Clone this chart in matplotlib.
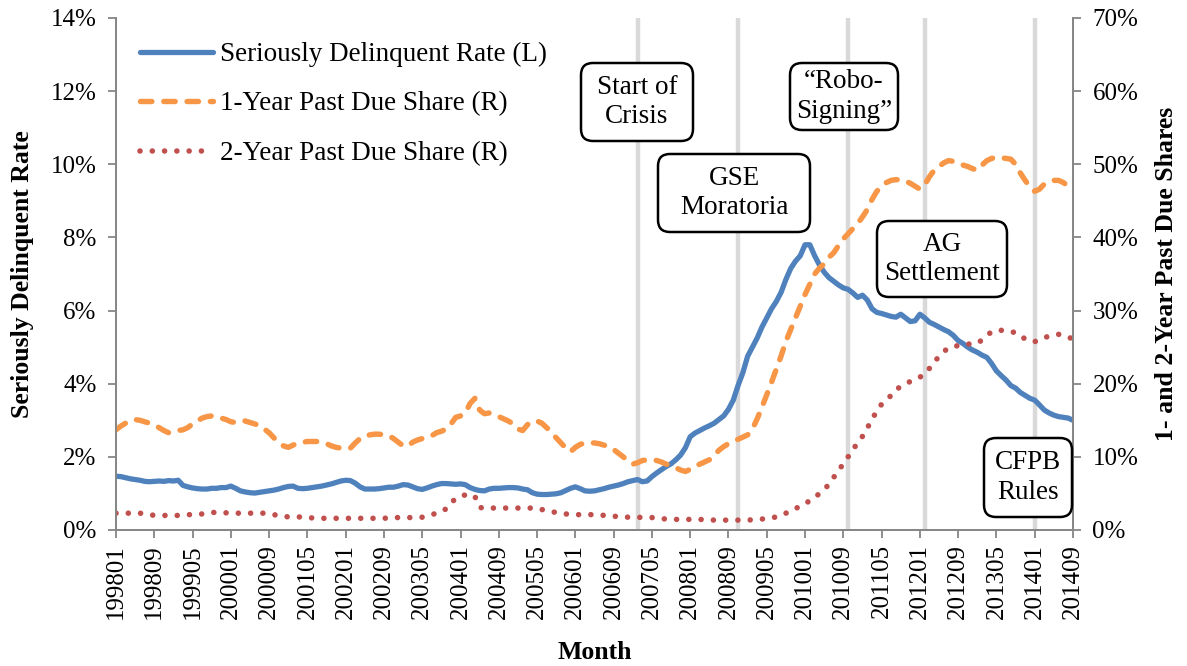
import matplotlib
matplotlib.use("Agg")
import matplotlib.pyplot as plt
import matplotlib.transforms as mtransforms
from matplotlib.patches import FancyBboxPatch
from matplotlib.ticker import PercentFormatter
import pandas as pd

months = pd.period_range("1998-01", "2014-09", freq="M").strftime("%Y%m").tolist()

# seriously delinquent rate, percent (left axis)
sdq_rate = [
    1.47, 1.46, 1.43, 1.40, 1.38, 1.36, 1.33, 1.32, 1.33, 1.34,
    1.33, 1.35, 1.34, 1.36, 1.22, 1.18, 1.15, 1.13, 1.12, 1.12,
    1.14, 1.14, 1.16, 1.16, 1.20, 1.14, 1.07, 1.04, 1.02, 1.01,
    1.03, 1.05, 1.07, 1.09, 1.12, 1.16, 1.19, 1.20, 1.14, 1.13,
    1.14, 1.16, 1.18, 1.20, 1.23, 1.26, 1.30, 1.34, 1.36, 1.35,
    1.28, 1.18, 1.12, 1.12, 1.12, 1.13, 1.15, 1.17, 1.17, 1.20,
    1.24, 1.23, 1.18, 1.13, 1.11, 1.15, 1.20, 1.24, 1.27, 1.27,
    1.26, 1.25, 1.26, 1.24, 1.16, 1.11, 1.08, 1.07, 1.12, 1.14,
    1.14, 1.15, 1.16, 1.16, 1.15, 1.12, 1.10, 1.02, 0.98, 0.97,
    0.97, 0.98, 0.99, 1.02, 1.08, 1.14, 1.18, 1.13, 1.07, 1.06,
    1.07, 1.10, 1.13, 1.17, 1.20, 1.23, 1.27, 1.32, 1.35, 1.38,
    1.32, 1.34, 1.46, 1.56, 1.65, 1.74, 1.81, 1.92, 2.05, 2.25,
    2.55, 2.65, 2.72, 2.79, 2.85, 2.92, 3.02, 3.12, 3.30, 3.55,
    3.95, 4.30, 4.75, 5.00, 5.25, 5.55, 5.80, 6.05, 6.25, 6.50,
    6.85, 7.15, 7.35, 7.50, 7.80, 7.80, 7.50, 7.25, 7.05, 6.90,
    6.80, 6.70, 6.62, 6.58, 6.48, 6.36, 6.42, 6.29, 6.05, 5.95,
    5.92, 5.88, 5.84, 5.82, 5.90, 5.80, 5.70, 5.72, 5.90, 5.80,
    5.68, 5.62, 5.55, 5.48, 5.42, 5.32, 5.18, 5.10, 5.00, 4.92,
    4.86, 4.78, 4.72, 4.55, 4.35, 4.22, 4.10, 3.95, 3.88, 3.76,
    3.68, 3.60, 3.55, 3.42, 3.28, 3.20, 3.14, 3.10, 3.08, 3.06, 3.00,
]

# 1-year past due share, percent (right axis)
one_year_share = [
    13.7, 14.2, 14.6, 14.9, 15.1, 15.0, 14.8, 14.6, 14.3, 14.0,
    13.6, 13.3, 13.5, 13.6, 13.7, 14.0, 14.5, 14.9, 15.3, 15.5,
    15.6, 15.5, 15.3, 15.1, 14.8, 14.7, 14.9, 14.9, 14.7, 14.5,
    14.3, 13.8, 13.3, 12.6, 12.0, 11.5, 11.3, 11.6, 11.9, 12.0,
    12.1, 12.1, 12.1, 12.0, 11.8, 11.5, 11.3, 11.2, 11.1, 11.2,
    11.9, 12.5, 12.9, 13.0, 13.1, 13.1, 13.0, 12.9, 12.5, 12.0,
    11.5, 11.5, 12.0, 12.3, 12.5, 12.6, 12.9, 13.3, 13.5, 13.8,
    14.5, 15.4, 15.6, 16.0, 17.3, 18.0, 16.4, 15.9, 16.0, 15.8,
    15.5, 15.2, 14.9, 14.5, 13.8, 13.6, 14.4, 14.9, 14.9, 14.6,
    14.0, 13.3, 12.6, 11.9, 11.2, 10.7, 11.3, 11.7, 11.9, 11.9,
    11.9, 11.8, 11.6, 11.4, 11.0, 10.5, 10.0, 9.5, 9.0, 9.2,
    9.5, 9.6, 9.6, 9.5, 9.3, 9.0, 8.8, 8.5, 8.2, 8.0,
    8.3, 8.7, 9.0, 9.3, 9.6, 10.2, 10.9, 11.4, 11.8, 12.1,
    12.4, 12.7, 13.0, 13.8, 15.2, 16.8, 18.5, 20.2, 22.0, 23.8,
    25.8, 27.4, 29.0, 30.6, 32.2, 33.6, 35.0, 35.8, 36.4, 37.3,
    37.9, 38.9, 39.8, 40.5, 41.2, 41.9, 42.8, 43.8, 45.2, 46.3,
    47.0, 47.5, 47.8, 47.9, 47.9, 47.7, 47.4, 47.0, 46.6, 47.2,
    48.3, 49.2, 49.7, 50.2, 50.5, 50.4, 50.2, 49.9, 49.7, 49.4,
    49.2, 49.9, 50.5, 50.8, 50.95, 50.9, 50.8, 50.7, 50.0, 48.8,
    47.8, 46.9, 46.3, 46.6, 47.3, 47.6, 47.8, 47.8, 47.5, 47.0, 46.6,
]

# 2-year past due share, percent (right axis)
two_year_share = [
    2.3, 2.3, 2.3, 2.3, 2.3, 2.3, 2.2, 2.1, 2.0, 2.0,
    2.0, 1.95, 1.95, 2.0, 2.1, 2.1, 2.1, 2.1, 2.2, 2.35,
    2.4, 2.4, 2.4, 2.35, 2.3, 2.3, 2.3, 2.3, 2.3, 2.3,
    2.3, 2.3, 2.25, 2.1, 1.95, 1.85, 1.8, 1.8, 1.8, 1.75,
    1.7, 1.65, 1.6, 1.6, 1.6, 1.6, 1.6, 1.6, 1.6, 1.6,
    1.6, 1.6, 1.6, 1.6, 1.6, 1.6, 1.6, 1.65, 1.7, 1.7,
    1.7, 1.7, 1.7, 1.7, 1.75, 1.9, 2.1, 2.3, 2.5, 2.9,
    3.7, 4.3, 4.6, 4.8, 4.9, 4.6, 3.1, 2.95, 3.0, 3.0,
    3.0, 3.0, 3.0, 3.0, 3.0, 3.0, 3.0, 3.0, 3.0, 2.8,
    2.6, 2.5, 2.4, 2.3, 2.2, 2.1, 2.1, 2.1, 2.1, 2.1,
    2.1, 2.05, 2.0, 2.0, 1.9, 1.8, 1.8, 1.75, 1.75, 1.75,
    1.7, 1.7, 1.7, 1.6, 1.55, 1.5, 1.45, 1.45, 1.45, 1.45,
    1.45, 1.45, 1.45, 1.4, 1.4, 1.35, 1.35, 1.35, 1.35, 1.35,
    1.35, 1.35, 1.35, 1.4, 1.45, 1.5, 1.55, 1.65, 1.8, 2.0,
    2.3, 2.6, 2.9, 3.3, 3.6, 4.0, 4.4, 5.0, 5.6, 6.2,
    7.2, 8.2, 9.0, 10.0, 11.0, 11.9, 12.8, 13.9, 15.2, 16.2,
    17.2, 17.8, 18.4, 19.2, 19.6, 20.0, 20.3, 20.6, 20.9, 21.3,
    22.1, 23.0, 23.7, 24.4, 24.9, 25.1, 25.2, 25.3, 25.4, 25.5,
    25.5, 26.0, 26.6, 27.1, 27.3, 27.3, 27.3, 27.1, 27.0, 26.6,
    26.1, 25.8, 25.75, 26.0, 26.3, 26.5, 26.6, 26.75, 26.6, 26.3, 26.2,
]

# policy events (month, label)
event_months = ["200702", "200811", "201010", "201202", "201401"]
event_labels = ["Start of\nCrisis", "GSE\nMoratoria", "\u201cRobo-\nSigning\u201d",
                "AG\nSettlement", "CFPB\nRules"]

plt.rcParams["font.family"] = ["Liberation Serif", "DejaVu Serif"]
plt.rcParams["font.size"] = 18

W, H = 1187, 666
fig = plt.figure(figsize=(W / 100, H / 100), dpi=100)
ax = fig.add_axes([116 / W, 1 - 530 / H, (1073 - 116) / W, 512 / H])
ax2 = ax.twinx()

x = list(range(len(months)))
blue, orange, red, grid_grey, spine_grey = "#4F81BD", "#F79646", "#C0504D", "#D9D9D9", "#868686"

for m in event_months:
    ax.axvline(months.index(m), color=grid_grey, lw=3.2, zorder=0)

l1, = ax.plot(x, sdq_rate, color=blue, lw=3.8, solid_capstyle="round",
              solid_joinstyle="round", label="Seriously Delinquent Rate (L)", zorder=3)
l2, = ax2.plot(x, one_year_share, color=orange, lw=3.9, ls=(0, (2.1, 2.2)),
               dash_capstyle="round", label="1-Year Past Due Share (R)")
l3, = ax2.plot(x, two_year_share, color=red, lw=4.0, ls=(0, (0.01, 2.2)),
               dash_capstyle="round", label="2-Year Past Due Share (R)")

ax.set_xlim(0, len(months) - 1)
ax.set_ylim(0, 14)
ax2.set_ylim(0, 70)
ax.set_yticks(range(0, 15, 2))
ax2.set_yticks(range(0, 71, 10))
ax.yaxis.set_major_formatter(PercentFormatter(decimals=0))
ax2.yaxis.set_major_formatter(PercentFormatter(decimals=0))
ax.set_xticks(x[::8])
ax.set_xticklabels(months[::8], rotation=90)

for a in (ax, ax2):
    a.spines["top"].set_visible(False)
    for s in ("left", "right", "bottom"):
        a.spines[s].set_color(spine_grey)
        a.spines[s].set_linewidth(1.3)
    a.tick_params(colors=spine_grey, labelcolor="black", width=1.3, length=6, labelsize=18)
ax.tick_params(axis="x", pad=4)
ax.tick_params(axis="y", pad=8)
ax2.tick_params(axis="y", pad=8)

ax.set_xlabel("Month", fontweight="bold", fontsize=18.5, labelpad=16)
ax.set_ylabel("Seriously Delinquent Rate", fontweight="bold", fontsize=18.5, labelpad=12)
ax2.set_ylabel("1- and 2-Year Past Due Shares", fontweight="bold", fontsize=18.5, labelpad=12)

ax2.legend(handles=[l1, l2, l3], loc="upper left", frameon=False, fontsize=19.5,
           bbox_to_anchor=(0.025, 0.953), borderpad=0, borderaxespad=0,
           handlelength=2.7, handletextpad=0.25, labelspacing=0.9)


def note_box(left, top, right, bottom, text):
    # box drawn in pixel coordinates of the figure
    patch = FancyBboxPatch((left, H - bottom), right - left, bottom - top,
                           boxstyle="round,pad=0,rounding_size=12",
                           transform=mtransforms.IdentityTransform(),
                           fc="white", ec="black", lw=1.8, zorder=5)
    fig.add_artist(patch)
    fig.text((left + right) / 2 / W, 1 - (top + bottom) / 2 / H, text,
             ha="center", va="center", fontsize=19.5, linespacing=1.25, zorder=6)


boxes = [(581, 63, 693, 141), (658, 154, 810, 232), (790, 63, 898, 130),
         (877, 221, 1007, 297), (984, 438, 1072, 517)]
for (l, t, r, b), lab in zip(boxes, event_labels):
    note_box(l, t, r, b, lab)

fig.savefig("out.png", dpi=100)
